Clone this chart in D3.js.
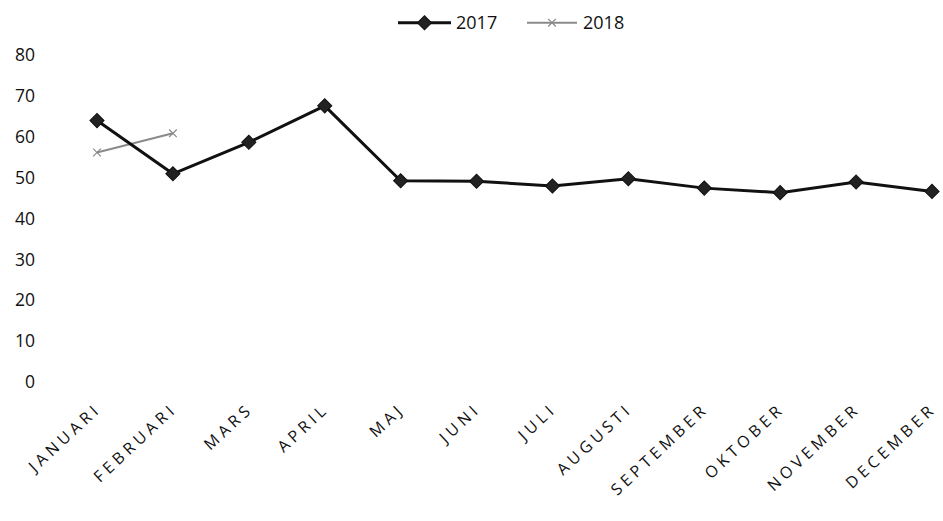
<!DOCTYPE html>
<html>
<head>
<meta charset="utf-8">
<script src="https://cdn.jsdelivr.net/npm/d3@7"></script>
<style>
  body { margin: 0; background: #fff; }
  text { font-family: "Open Sans", sans-serif; fill: #111; }
</style>
</head>
<body>
<div id="chart"></div>
<script>
// Data
const months = ['JANUARI', 'FEBRUARI', 'MARS', 'APRIL', 'MAJ', 'JUNI', 'JULI', 'AUGUSTI', 'SEPTEMBER', 'OKTOBER', 'NOVEMBER', 'DECEMBER'];
const values2017 = [63.8, 50.8, 58.5, 67.4, 49.1, 49.0, 47.8, 49.6, 47.3, 46.2, 48.8, 46.5];
const values2018 = [56.0, 60.7];
const yTicks = [0, 10, 20, 30, 40, 50, 60, 70, 80];

const width = 943, height = 521;

const svg = d3.select('#chart').append('svg')
    .attr('width', width)
    .attr('height', height);

const x = d3.scalePoint().domain(months).range([97, 932]);
const y = d3.scaleLinear().domain([0, 80]).range([381.7, 54.3]);

// y axis labels only (no axis line, no gridlines)
svg.append('g')
    .attr('transform', 'translate(35,0)')
    .call(d3.axisLeft(y).tickValues(yTicks).tickSize(0).tickPadding(0))
    .call(g => g.select('.domain').remove())
    .selectAll('text')
    .attr('dy', '0.35em')
    .style('font-size', '17.5px')
    .style('font-family', '"Open Sans", sans-serif')
    .style('fill', '#111');

// x axis labels, rotated
svg.append('g')
    .attr('transform', 'translate(0,406)')
    .call(d3.axisBottom(x).tickSize(0).tickPadding(0))
    .call(g => g.select('.domain').remove())
    .selectAll('text')
    .attr('text-anchor', 'end')
    .attr('dy', '0.35em')
    .attr('transform', 'translate(1,0) rotate(-43)')
    .style('font-size', '16px')
    .style('letter-spacing', '4.2px')
    .style('font-family', '"Open Sans", sans-serif')
    .style('fill', '#111');

const line = d3.line().x((d, i) => x(months[i])).y(d => y(d));

// 2018 series (grey, thin, x markers)
svg.append('path').datum(values2018).attr('d', line)
    .style('fill', 'none').style('stroke', '#8a8a8a').style('stroke-width', 2);
const cross = d3.symbol().type(d3.symbolX).size(40);
svg.selectAll('.m2018').data(values2018).join('path')
    .attr('class', 'm2018')
    .attr('d', cross)
    .attr('transform', (d, i) => `translate(${x(months[i])},${y(d)})`)
    .style('fill', 'none').style('stroke', '#8a8a8a').style('stroke-width', 1.2);

// 2017 series (black, thick, diamond markers)
svg.append('path').datum(values2017).attr('d', line)
    .style('fill', 'none').style('stroke', '#111').style('stroke-width', 3);
const diamond = d3.symbol().type(d3.symbolSquare).size(100);
svg.selectAll('.m2017').data(values2017).join('path')
    .attr('class', 'm2017')
    .attr('d', diamond)
    .attr('transform', (d, i) => `translate(${x(months[i])},${y(d)}) rotate(45)`)
    .style('fill', '#222').style('stroke', '#111').style('stroke-width', 1);

// Legend
const legend = svg.append('g').attr('transform', 'translate(0,22.7)');
legend.append('line').attr('x1', 398).attr('x2', 451).attr('y1', 0).attr('y2', 0)
    .style('stroke', '#111').style('stroke-width', 3);
legend.append('path').attr('d', diamond).attr('transform', 'translate(424.5,0) rotate(45)')
    .style('fill', '#222').style('stroke', '#111');
legend.append('text').attr('x', 456).attr('y', 0).attr('dy', '0.35em')
    .style('font-size', '18px').text('2017');

legend.append('line').attr('x1', 527).attr('x2', 577).attr('y1', 0).attr('y2', 0)
    .style('stroke', '#8a8a8a').style('stroke-width', 2);
legend.append('path').attr('d', cross).attr('transform', 'translate(552,0)')
    .style('fill', 'none').style('stroke', '#8a8a8a').style('stroke-width', 1.2);
legend.append('text').attr('x', 583).attr('y', 0).attr('dy', '0.35em')
    .style('font-size', '18px').text('2018');
</script>
</body>
</html>
